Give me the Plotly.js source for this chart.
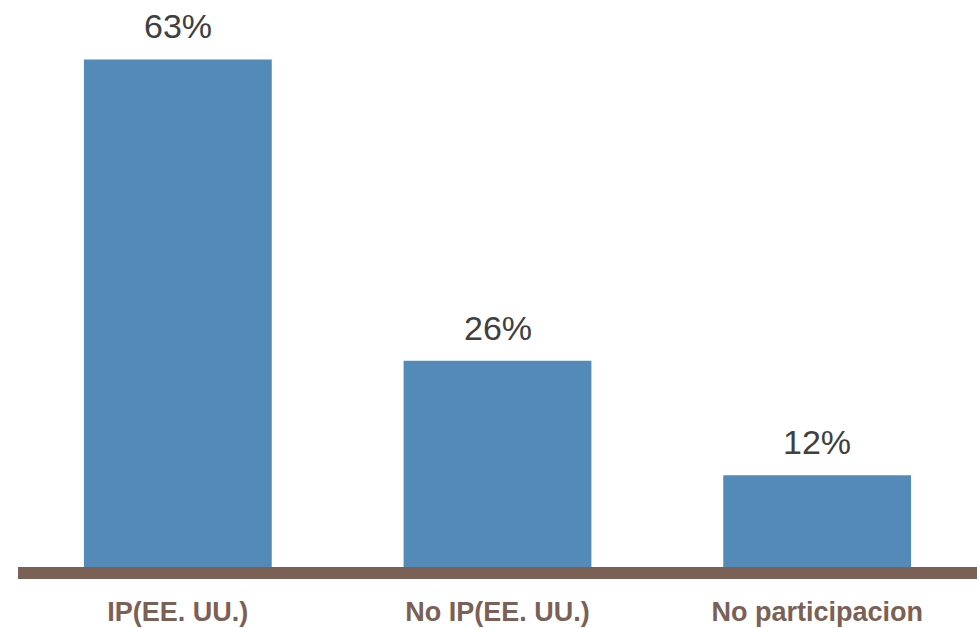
<!DOCTYPE html>
<html>
<head>
<meta charset="utf-8">
<script src="https://cdn.plot.ly/plotly-3.0.1.min.js"></script>
<style>html,body{margin:0;padding:0;background:#fff;}</style>
</head>
<body>
<div id="chart" style="width:979px;height:628px;"></div>
<script>
const categories = ["IP(EE. UU.)", "No IP(EE. UU.)", "No participacion"];
const values = [63.0, 25.6, 11.4];
const valueLabels = ["63%", "26%", "12%"];

const trace = {
  type: "bar",
  x: categories,
  y: values,
  marker: { color: "#548ab8" },
  width: 0.5875,
  hoverinfo: "skip"
};

const annotations = categories.map((c, i) => ({
  x: c, y: values[i], xref: "x", yref: "y",
  text: valueLabels[i], showarrow: false,
  yanchor: "bottom", yshift: 12,
  font: { family: "Liberation Sans, Arial, sans-serif", size: 34, color: "#404040" }
}));

const layout = {
  width: 979, height: 628,
  margin: { l: 18, r: 2, t: 3, b: 61 },
  paper_bgcolor: "#ffffff", plot_bgcolor: "#ffffff",
  showlegend: false,
  xaxis: {
    type: "category",
    range: [-0.5, 2.5],
    showline: true, linecolor: "#7a6055", linewidth: 12,
    showgrid: false, zeroline: false, ticks: "",
    ticklabelstandoff: 10,
    tickfont: { family: "Liberation Sans Narrow, Arial Narrow, Liberation Sans, sans-serif", size: 27, color: "#7a6055", weight: "bold" }
  },
  yaxis: {
    range: [0, 70], visible: false, showgrid: false, zeroline: false
  },
  annotations: annotations
};

Plotly.newPlot("chart", [trace], layout, { displayModeBar: false, staticPlot: true });
</script>
</body>
</html>
